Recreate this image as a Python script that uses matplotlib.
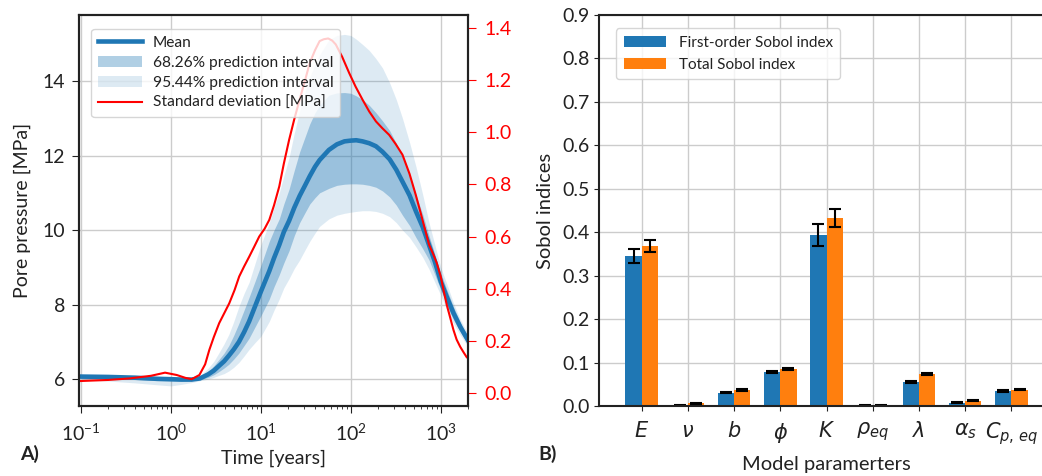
import numpy as np
import matplotlib.pyplot as plt

plt.rcParams['font.family'] = ['Lato', 'DejaVu Sans']
plt.rcParams['font.size'] = 14
plt.rcParams['text.color'] = '#222222'
plt.rcParams['axes.labelcolor'] = '#222222'
plt.rcParams['xtick.color'] = '#222222'
plt.rcParams['ytick.color'] = '#222222'

# =========================
# A) presion de poro
# =========================
tiempo = [0.1, 0.2, 0.4, 0.7, 1.0,
          1.3, 1.7, 2.1, 2.6, 3.0,
          3.4, 3.9, 4.4, 5.0, 5.7,
          6.5, 7.4, 8.6, 10, 12.4,
          14, 16, 18, 20.6, 23.5,
          27, 31, 35, 40, 45,
          57, 70, 85, 100, 115,
          135, 160, 190, 225, 270,
          320, 375, 450, 530, 630,
          740, 860, 1000, 1170, 1380,
          1650, 2000]
media = [6.07, 6.06, 6.04, 6.01, 6.0,
         5.99, 5.99, 6.02, 6.13, 6.23,
         6.35, 6.48, 6.63, 6.8, 7.0,
         7.26, 7.55, 7.95, 8.35, 8.9,
         9.25, 9.6, 9.95, 10.25, 10.6,
         10.92, 11.2, 11.45, 11.7, 11.88,
         12.15, 12.3, 12.38, 12.4, 12.41,
         12.38, 12.33, 12.25, 12.1, 11.9,
         11.62, 11.3, 10.93, 10.5, 10.08,
         9.6, 9.15, 8.62, 8.2, 7.78,
         7.4, 7.05]
p68_bajo = [6.03, 6.01, 5.99, 5.96, 5.95,
            5.95, 5.96, 5.99, 6.05, 6.12,
            6.2, 6.3, 6.4, 6.54, 6.7,
            6.9, 7.1, 7.4, 7.7, 8.15,
            8.48, 8.8, 9.12, 9.45, 9.85,
            10.2, 10.47, 10.7, 10.87, 11.0,
            11.12, 11.2, 11.23, 11.24, 11.24,
            11.23, 11.2, 11.15, 11.05, 10.89,
            10.67, 10.4, 10.12, 9.8, 9.5,
            9.2, 8.8, 8.4, 7.98, 7.6,
            7.27, 6.95]
p68_alto = [6.10, 6.09, 6.07, 6.04, 6.03,
            6.02, 6.02, 6.06, 6.22, 6.36,
            6.52, 6.7, 6.9, 7.18, 7.5,
            7.85, 8.2, 8.62, 9.05, 9.7,
            10.0, 10.3, 10.7, 11.1, 11.6,
            12.1, 12.5, 12.85, 13.15, 13.35,
            13.62, 13.68, 13.69, 13.67, 13.6,
            13.5, 13.35, 13.15, 12.93, 12.67,
            12.33, 11.95, 11.5, 10.95, 10.42,
            9.85, 9.35, 8.85, 8.4, 7.95,
            7.52, 7.15]
p95_bajo = [5.98, 5.95, 5.9, 5.85, 5.82,
            5.86, 5.91, 5.96, 6.0, 6.05,
            6.1, 6.15, 6.22, 6.32, 6.45,
            6.62, 6.8, 6.98, 7.15, 7.55,
            7.85, 8.15, 8.45, 8.7, 8.97,
            9.2, 9.47, 9.7, 9.92, 10.1,
            10.3, 10.4, 10.45, 10.48, 10.5,
            10.52, 10.52, 10.5, 10.45, 10.36,
            10.2, 10.0, 9.8, 9.55, 9.27,
            8.95, 8.6, 8.25, 7.85, 7.5,
            7.18, 6.88]
p95_alto = [6.12, 6.11, 6.09, 6.07, 6.05,
            6.04, 6.04, 6.09, 6.3, 6.48,
            6.7, 6.95, 7.2, 7.55, 7.95,
            8.3, 8.6, 9.1, 9.6, 10.2,
            10.6, 11.0, 11.45, 11.95, 12.6,
            13.2, 13.7, 14.1, 14.45, 14.7,
            15.1, 15.22, 15.25, 15.22, 15.12,
            14.98, 14.82, 14.6, 14.35, 13.95,
            13.5, 13.0, 12.35, 11.7, 10.95,
            10.2, 9.6, 9.0, 8.55, 8.05,
            7.6, 7.22]

tiempo_desv = [0.1, 0.2, 0.35, 0.6, 0.86,
               1.16, 1.45, 1.7, 2.07, 2.4,
               2.67, 3.0, 3.44, 3.9, 4.45,
               5.1, 5.74, 6.5, 7.42, 8.4,
               9.58, 11, 12.4, 14, 16,
               18, 20.6, 23.5, 27, 31,
               35, 40, 45, 50, 56,
               62, 68, 80, 96, 113,
               135, 160, 190, 225, 267,
               315, 375, 450, 527, 620,
               742, 830, 903, 1000, 1080,
               1166, 1270, 1383, 1500, 1640,
               1800, 1945, 2000]
desv = [0.046, 0.05, 0.056, 0.066, 0.078,
        0.069, 0.058, 0.053, 0.069, 0.11,
        0.165, 0.215, 0.268, 0.305, 0.344,
        0.395, 0.447, 0.485, 0.523, 0.56,
        0.60, 0.63, 0.664, 0.72, 0.792,
        0.88, 0.971, 1.05, 1.126, 1.2,
        1.267, 1.315, 1.35, 1.357, 1.36,
        1.352, 1.337, 1.29, 1.227, 1.175,
        1.125, 1.08, 1.042, 1.015, 0.99,
        0.955, 0.914, 0.84, 0.76, 0.67,
        0.568, 0.53, 0.498, 0.446, 0.39,
        0.338, 0.29, 0.242, 0.205, 0.178,
        0.155, 0.137, 0.134]

# =========================
# B) indices de Sobol
# =========================
parametros = [r'$E$', r'$\nu$', r'$b$', r'$\phi$', r'$K$', r'$\rho_{eq}$',
              r'$\lambda$', r'$\alpha_s$', r'$C_{p,\,eq}$']
sobol_primer = [0.346, 0.001, 0.031, 0.079, 0.394, 0.001, 0.055, 0.008, 0.035]
err_primer = [0.016, 0.001, 0.002, 0.002, 0.025, 0.001, 0.002, 0.001, 0.002]
sobol_total = [0.369, 0.006, 0.037, 0.085, 0.432, 0.002, 0.074, 0.012, 0.038]
err_total = [0.014, 0.001, 0.002, 0.002, 0.021, 0.001, 0.002, 0.001, 0.002]

AZUL = '#1f77b4'
NARANJA = '#ff7f0e'

fig = plt.figure(figsize=(10.42, 4.76), dpi=100)

# ---- panel A
ax = fig.add_axes([0.0758, 0.147, 0.3732, 0.8215])
ax.fill_between(tiempo, p95_bajo, p95_alto, color=AZUL, alpha=0.15, lw=0,
                label='95.44% prediction interval')
ax.fill_between(tiempo, p68_bajo, p68_alto, color=AZUL, alpha=0.35, lw=0,
                label='68.26% prediction interval')
ax.plot(tiempo, media, color=AZUL, lw=3.3, label='Mean')
ax.set_xscale('log')
ax.set_xlim(0.095, 2000)
ax.set_ylim(5.28, 15.77)
ax.set_yticks([6, 8, 10, 12, 14])
ax.grid(True, color='#cccccc', lw=1)
ax.set_axisbelow(True)
ax.set_ylabel('Pore pressure [MPa]', labelpad=8)
ax.set_xlabel('Time [years]', labelpad=4)
ax.tick_params(labelsize=14, length=5, pad=5)
ax.tick_params(axis='x', pad=7)

ax2 = ax.twinx()
ax2.plot(tiempo_desv, desv, color='red', lw=1.5, label='Standard deviation [MPa]')
ax2.set_ylim(-0.05, 1.45)
ax2.set_yticks(np.arange(0, 1.41, 0.2))
ax2.tick_params(axis='y', colors='red', labelsize=14, length=6, pad=6)

for a in (ax, ax2):
    for s in a.spines.values():
        s.set_color('#222222')
        s.set_linewidth(1.5)

h1, l1 = ax.get_legend_handles_labels()
h2, l2 = ax2.get_legend_handles_labels()
orden = [2, 1, 0]
ax2.legend([h1[i] for i in orden] + h2, [l1[i] for i in orden] + l2,
           loc='upper left', bbox_to_anchor=(0.012, 0.985), fontsize=11.2,
           handlelength=2.8, handletextpad=0.7, borderpad=0.45, labelspacing=0.4)

fig.text(0.019, 0.033, 'A)', fontsize=14, fontweight='bold')

# ---- panel B
bx = fig.add_axes([0.575, 0.147, 0.4365, 0.8215])
x = np.arange(len(parametros))
ancho = 0.35
bx.bar(x - ancho / 2, sobol_primer, ancho, color=AZUL, yerr=err_primer,
       capsize=4, error_kw=dict(elinewidth=1.5, capthick=1.5), label='First-order Sobol index')
bx.bar(x + ancho / 2, sobol_total, ancho, color=NARANJA, yerr=err_total,
       capsize=4, error_kw=dict(elinewidth=1.5, capthick=1.5), label='Total Sobol index')
bx.set_xticks(x)
bx.set_xticklabels(parametros, fontsize=15)
bx.set_xlim(-0.92, 8.92)
bx.set_ylim(0, 0.9)
bx.set_yticks(np.arange(0, 0.91, 0.1))
bx.grid(True, color='#cccccc', lw=1)
bx.set_axisbelow(True)
bx.set_ylabel('Sobol indices', fontsize=14.5, labelpad=6)
bx.set_xlabel('Model paramerters', fontsize=14.5, labelpad=6)
bx.tick_params(axis='y', labelsize=14)
bx.tick_params(axis='x', pad=7)
for s in bx.spines.values():
    s.set_color('#222222')
    s.set_linewidth(1.5)
bx.legend(loc='upper left', bbox_to_anchor=(0.02, 0.985), fontsize=11,
          handlelength=2.8, handletextpad=0.8, borderpad=0.5)

fig.text(0.517, 0.033, 'B)', fontsize=14, fontweight='bold')

fig.savefig('out.png', dpi=100)
